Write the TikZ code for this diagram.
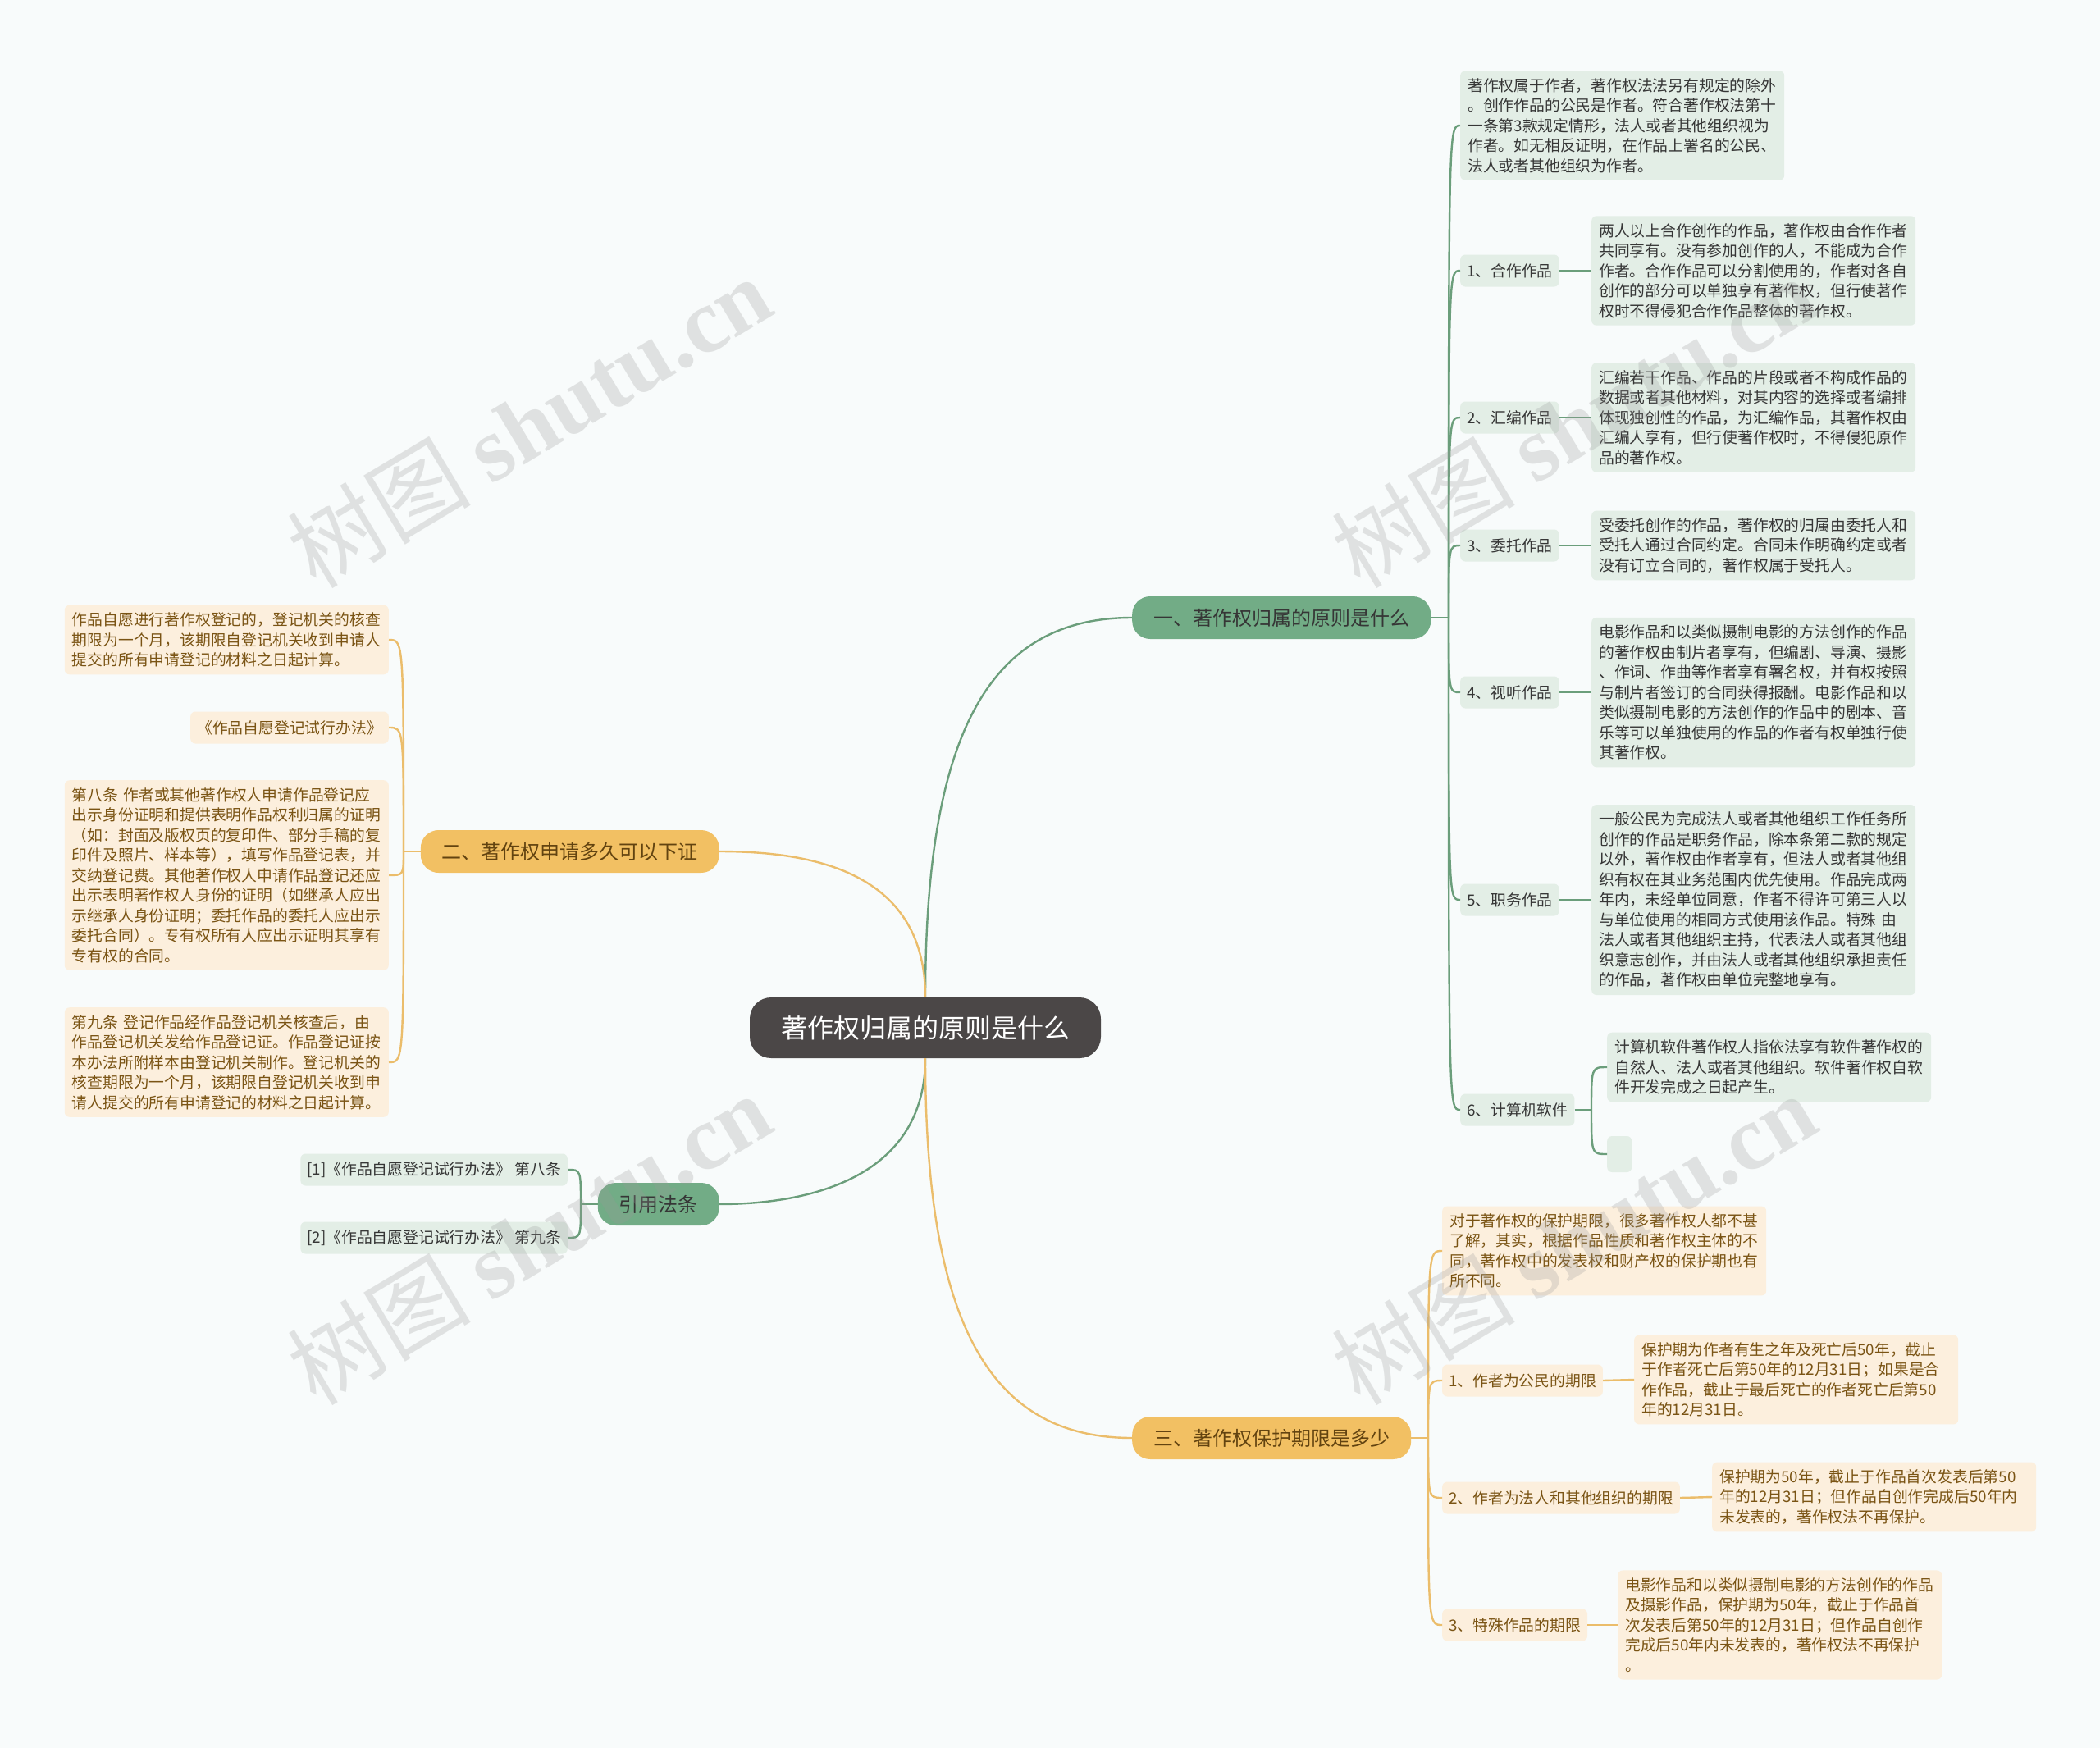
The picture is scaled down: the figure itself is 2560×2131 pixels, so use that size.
\documentclass[tikz,border=0pt]{standalone}
\usepackage{fontspec}
\setmainfont{Noto Sans CJK SC}
\newfontfamily\wmfont{Liberation Serif}
\usetikzlibrary{calc}

\definecolor{bgcol}{HTML}{F8FBFB}
\definecolor{rootcol}{HTML}{4B4747}
\definecolor{grnmain}{HTML}{72AC86}
\definecolor{grnline}{HTML}{6B9E7B}
\definecolor{grnlight}{HTML}{E3EEE6}
\definecolor{orgmain}{HTML}{F2C063}
\definecolor{orgline}{HTML}{EBBD6B}
\definecolor{orglight}{HTML}{FCEFDD}
\definecolor{orgtext}{HTML}{7A5414}
\definecolor{txtdark}{HTML}{363636}

\newcommand{\leaffont}{\fontsize{18.8}{24.5}\selectfont}

\tikzset{
    rootbox/.style={fill=rootcol, text=white, rounded corners=26pt,
        minimum height=74pt, inner xsep=38pt,
        font=\fontsize{32}{38}\selectfont},
    branchbox/.style={rounded corners=22pt, minimum height=52pt,
        inner xsep=26pt, font=\fontsize{24}{28}\selectfont},
    grnbranch/.style={branchbox, fill=grnmain, text=txtdark},
    orgbranch/.style={branchbox, fill=orgmain, text=orgtext!80!black},
    leafbox/.style={rounded corners=6pt, inner xsep=9pt, inner ysep=9pt,
        font=\leaffont},
    grnleaf/.style={leafbox, fill=grnlight, text=txtdark,
        text width=377pt, align=left},
    orgleaf/.style={leafbox, fill=orglight, text=orgtext,
        text width=377pt, align=left},
    grnlabel/.style={leafbox, fill=grnlight, text=txtdark,
        minimum height=39pt, inner xsep=8pt, inner ysep=0pt},
    orglabel/.style={leafbox, fill=orglight, text=orgtext,
        minimum height=39pt, inner xsep=8pt, inner ysep=0pt},
    gline/.style={draw=grnline, line width=2.4pt},
    oline/.style={draw=orgline, line width=2.4pt},
    wmark/.style={text=black!40, text opacity=0.26, rotate=31,
        font=\fontsize{112}{112}\selectfont}
}

\begin{document}
\begin{tikzpicture}[x=1pt,y=-1pt]

    %------------------------------------------------
    % Canvas
    %------------------------------------------------

    \fill[bgcol] (0,0) rectangle (2560,2131);
    \useasboundingbox (0,0) rectangle (2560,2131);

    %------------------------------------------------
    % Root and main branches
    %------------------------------------------------

    \node[rootbox] (root) at (1128,1253) {著作权归属的原则是什么};

    \node[grnbranch, anchor=west] (b1) at (1380,753)
        {一、著作权归属的原则是什么};
    \node[orgbranch, anchor=east] (b2) at (877,1038)
        {二、著作权申请多久可以下证};
    \node[grnbranch, anchor=east] (b3) at (877,1468) {引用法条};
    \node[orgbranch, anchor=west] (b4) at (1380,1753)
        {三、著作权保护期限是多少};

    \draw[gline] (root.north) .. controls +(0,-330) and +(-170,0) .. (b1.west);
    \draw[oline] (root.north) .. controls +(0,-150) and +(120,0) .. (b2.east);
    \draw[gline] (root.south) .. controls +(0,140) and +(120,0) .. (b3.east);
    \draw[oline] (root.south) .. controls +(0,330) and +(-170,0) .. (b4.west);

    %------------------------------------------------
    % Branch 1: ownership
    %------------------------------------------------

    \node[grnleaf, anchor=west] (t0) at (1780,153)
        {著作权属于作者，著作权法法另有规定的除外\\
         。创作作品的公民是作者。符合著作权法第十\\
         一条第3款规定情形，法人或者其他组织视为\\
         作者。如无相反证明，在作品上署名的公民、\\
         法人或者其他组织为作者。};

    \node[grnlabel, anchor=west] (c1) at (1780,330) {1、合作作品};
    \node[grnleaf, anchor=west] (d1) at (1940,330)
        {两人以上合作创作的作品，著作权由合作作者\\
         共同享有。没有参加创作的人，不能成为合作\\
         作者。合作作品可以分割使用的，作者对各自\\
         创作的部分可以单独享有著作权，但行使著作\\
         权时不得侵犯合作作品整体的著作权。};

    \node[grnlabel, anchor=west] (c2) at (1780,509) {2、汇编作品};
    \node[grnleaf, anchor=west] (d2) at (1940,509)
        {汇编若干作品、作品的片段或者不构成作品的\\
         数据或者其他材料，对其内容的选择或者编排\\
         体现独创性的作品，为汇编作品，其著作权由\\
         汇编人享有，但行使著作权时，不得侵犯原作\\
         品的著作权。};

    \node[grnlabel, anchor=west] (c3) at (1780,665) {3、委托作品};
    \node[grnleaf, anchor=west] (d3) at (1940,665)
        {受委托创作的作品，著作权的归属由委托人和\\
         受托人通过合同约定。合同未作明确约定或者\\
         没有订立合同的，著作权属于受托人。};

    \node[grnlabel, anchor=west] (c4) at (1780,844) {4、视听作品};
    \node[grnleaf, anchor=west] (d4) at (1940,844)
        {电影作品和以类似摄制电影的方法创作的作品\\
         的著作权由制片者享有，但编剧、导演、摄影\\
         、作词、作曲等作者享有署名权，并有权按照\\
         与制片者签订的合同获得报酬。电影作品和以\\
         类似摄制电影的方法创作的作品中的剧本、音\\
         乐等可以单独使用的作品的作者有权单独行使\\
         其著作权。};

    \node[grnlabel, anchor=west] (c5) at (1780,1097) {5、职务作品};
    \node[grnleaf, anchor=west] (d5) at (1940,1097)
        {一般公民为完成法人或者其他组织工作任务所\\
         创作的作品是职务作品，除本条第二款的规定\\
         以外，著作权由作者享有，但法人或者其他组\\
         织有权在其业务范围内优先使用。作品完成两\\
         年内，未经单位同意，作者不得许可第三人以\\
         与单位使用的相同方式使用该作品。特殊 由\\
         法人或者其他组织主持，代表法人或者其他组\\
         织意志创作，并由法人或者其他组织承担责任\\
         的作品，著作权由单位完整地享有。};

    \node[grnlabel, anchor=west] (c6) at (1780,1353) {6、计算机软件};
    \node[grnleaf, anchor=west] (d6) at (1959,1301)
        {计算机软件著作权人指依法享有软件著作权的\\
         自然人、法人或者其他组织。软件著作权自软\\
         件开发完成之日起产生。};
    \node[leafbox, fill=grnlight, minimum width=30pt, minimum height=44pt,
        inner sep=0pt, anchor=west] (e6) at (1959,1407) {};

    \coordinate (h1) at (1766,753);
    \draw[gline] (b1.east) -- (h1);
    \foreach \kid in {t0,c1,c2,c3,c4,c5,c6}
        \draw[gline] (h1) .. controls (h1 |- \kid.west) .. (\kid.west);
    \foreach \kid in {1,...,5}
        \draw[gline] (c\kid.east) -- (d\kid.west);

    \coordinate (h6) at (1940,1353);
    \draw[gline] (c6.east) -- (h6);
    \draw[gline] (h6) .. controls (h6 |- d6.west) .. (d6.west);
    \draw[gline] (h6) .. controls (h6 |- e6.west) .. (e6.west);

    %------------------------------------------------
    % Branch 2: registration
    %------------------------------------------------

    \node[orgleaf, anchor=east] (l1) at (474,780)
        {作品自愿进行著作权登记的，登记机关的核查\\
         期限为一个月，该期限自登记机关收到申请人\\
         提交的所有申请登记的材料之日起计算。};

    \node[orglabel, anchor=east] (l2) at (474,887) {《作品自愿登记试行办法》};

    \node[orgleaf, anchor=east] (l3) at (474,1067)
        {第八条 作者或其他著作权人申请作品登记应\\
         出示身份证明和提供表明作品权利归属的证明\\
         （如：封面及版权页的复印件、部分手稿的复\\
         印件及照片、样本等），填写作品登记表，并\\
         交纳登记费。其他著作权人申请作品登记还应\\
         出示表明著作权人身份的证明（如继承人应出\\
         示继承人身份证明；委托作品的委托人应出示\\
         委托合同）。专有权所有人应出示证明其享有\\
         专有权的合同。};

    \node[orgleaf, anchor=east] (l4) at (474,1295)
        {第九条 登记作品经作品登记机关核查后，由\\
         作品登记机关发给作品登记证。作品登记证按\\
         本办法所附样本由登记机关制作。登记机关的\\
         核查期限为一个月，该期限自登记机关收到申\\
         请人提交的所有申请登记的材料之日起计算。};

    \coordinate (h2) at (492,1038);
    \draw[oline] (b2.west) -- (h2);
    \foreach \kid in {l1,l2,l3,l4}
        \draw[oline] (h2) .. controls (h2 |- \kid.east) .. (\kid.east);

    %------------------------------------------------
    % Branch 3: cited articles
    %------------------------------------------------

    \node[grnlabel, anchor=east] (r1) at (692,1426)
        {[1]《作品自愿登记试行办法》 第八条};
    \node[grnlabel, anchor=east] (r2) at (692,1509)
        {[2]《作品自愿登记试行办法》 第九条};

    \coordinate (h3) at (708,1468);
    \draw[gline] (b3.west) -- (h3);
    \foreach \kid in {r1,r2}
        \draw[gline] (h3) .. controls (h3 |- \kid.east) .. (\kid.east);

    %------------------------------------------------
    % Branch 4: protection period
    %------------------------------------------------

    \node[orgleaf, anchor=west] (p0) at (1758,1525)
        {对于著作权的保护期限，很多著作权人都不甚\\
         了解，其实，根据作品性质和著作权主体的不\\
         同，著作权中的发表权和财产权的保护期也有\\
         所不同。};

    \node[orglabel, anchor=west] (p1) at (1758,1683) {1、作者为公民的期限};
    \node[orgleaf, anchor=west] (q1) at (1992,1682)
        {保护期为作者有生之年及死亡后50年，截止\\
         于作者死亡后第50年的12月31日；如果是合\\
         作作品，截止于最后死亡的作者死亡后第50\\
         年的12月31日。};

    \node[orglabel, anchor=west] (p2) at (1758,1826)
        {2、作者为法人和其他组织的期限};
    \node[orgleaf, anchor=west] (q2) at (2087,1825)
        {保护期为50年，截止于作品首次发表后第50\\
         年的12月31日；但作品自创作完成后50年内\\
         未发表的，著作权法不再保护。};

    \node[orglabel, anchor=west] (p3) at (1758,1981) {3、特殊作品的期限};
    \node[orgleaf, anchor=west] (q3) at (1972,1981)
        {电影作品和以类似摄制电影的方法创作的作品\\
         及摄影作品，保护期为50年，截止于作品首\\
         次发表后第50年的12月31日；但作品自创作\\
         完成后50年内未发表的，著作权法不再保护\\
         。};

    \coordinate (h4) at (1741,1753);
    \draw[oline] (b4.east) -- (h4);
    \foreach \kid in {p0,p1,p2,p3}
        \draw[oline] (h4) .. controls (h4 |- \kid.west) .. (\kid.west);
    \foreach \kid in {1,2,3}
        \draw[oline] (p\kid.east) -- (q\kid.west);

    %------------------------------------------------
    % Watermarks
    %------------------------------------------------

    \foreach \wx/\wy [count=\wi] in {645/514, 1918/514, 645/1510, 1918/1510}
        \node[wmark] (wm\wi) at (\wx,\wy) {树图 {\wmfont\bfseries shutu.cn}};

\end{tikzpicture}
\end{document}
